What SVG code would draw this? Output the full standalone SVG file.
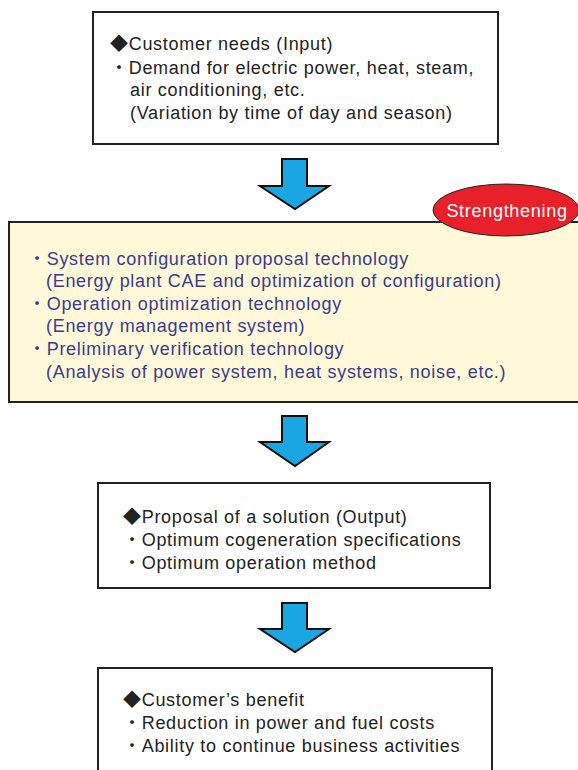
<svg xmlns="http://www.w3.org/2000/svg" width="578" height="770" viewBox="0 0 578 770">
<defs>
<style>
.box{fill:#fff;stroke:#222;stroke-width:2}
.ybox{fill:#fff9d9;stroke:#222;stroke-width:2}
.t{font-family:"Liberation Sans","Noto Sans CJK JP",sans-serif;font-size:18px;letter-spacing:0.7px;fill:#222}
.b{font-family:"Liberation Sans","Noto Sans CJK JP",sans-serif;font-size:18px;letter-spacing:0.7px;fill:#3b3b8f}
.arrow{fill:#1aa6e2;stroke:#111;stroke-width:2;stroke-linejoin:miter}
</style>
</defs>
<rect width="578" height="770" fill="#fff"/>
<g id="input">
<rect class="box" x="93" y="12" width="405" height="132"/>
<text class="t" x="110" y="50">◆Customer needs (Input)</text>
<text class="t" x="110" y="74">・Demand for electric power, heat, steam,</text>
<text class="t" x="130" y="96">air conditioning, etc.</text>
<text class="t" x="130" y="119">(Variation by time of day and season)</text>
</g>
<g id="connectors">
<path class="arrow" d="M282,159 H307 V186 H329 L295,209 L260,186 H282 Z"/>
<path class="arrow" d="M282,416 H307 V442 H329 L295,466 L260,442 H282 Z"/>
<path class="arrow" d="M282,603 H307 V629 H329 L295,652 L260,629 H282 Z"/>
</g>
<g id="technology">
<rect class="ybox" x="9" y="222" width="580" height="180"/>
<text class="b" x="28" y="265">・System configuration proposal technology</text>
<text class="b" x="46" y="287">(Energy plant CAE and optimization of configuration)</text>
<text class="b" x="28" y="310">・Operation optimization technology</text>
<text class="b" x="46" y="332">(Energy management system)</text>
<text class="b" x="28" y="355">・Preliminary verification technology</text>
<text class="b" x="46" y="378">(Analysis of power system, heat systems, noise, etc.)</text>
</g>
<g id="strengthening">
<ellipse cx="506" cy="210" rx="73" ry="26" fill="#e8202a" stroke="#222" stroke-width="1"/>
<text x="507" y="217" text-anchor="middle" font-family="Liberation Sans, sans-serif" font-size="18" letter-spacing="0.7" fill="#fff">Strengthening</text>
</g>
<g id="output">
<rect class="box" x="98" y="483" width="392" height="105"/>
<text class="t" x="123" y="523">◆Proposal of a solution (Output)</text>
<text class="t" x="123" y="546">・Optimum cogeneration specifications</text>
<text class="t" x="123" y="569">・Optimum operation method</text>
</g>
<g id="benefit">
<rect class="box" x="98" y="668" width="394" height="110"/>
<text class="t" x="123" y="706">◆Customer’s benefit</text>
<text class="t" x="123" y="729">・Reduction in power and fuel costs</text>
<text class="t" x="123" y="752">・Ability to continue business activities</text>
</g>
</svg>
